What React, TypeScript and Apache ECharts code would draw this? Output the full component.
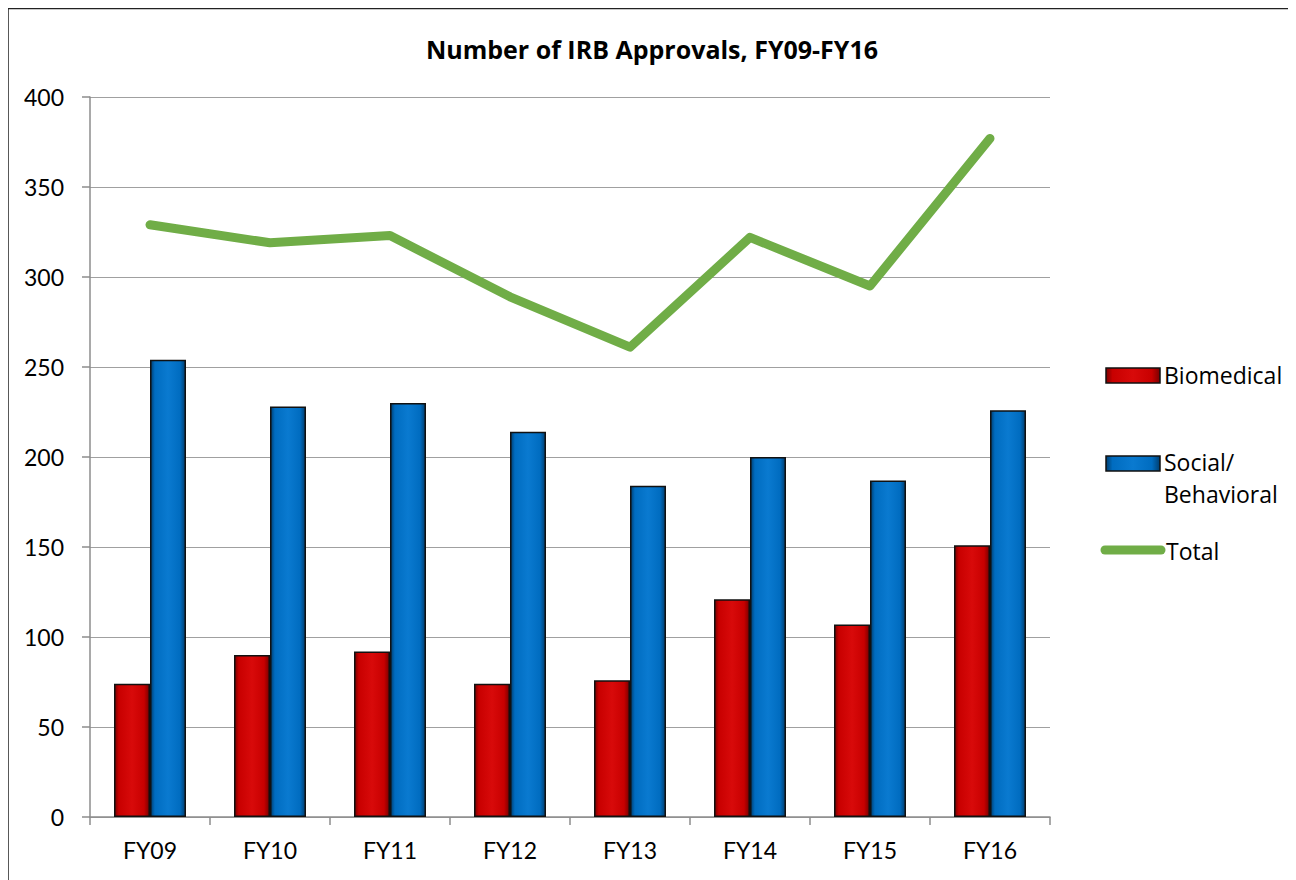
import React, { useEffect, useRef } from "react";
import * as echarts from "echarts";

const categories = ["FY09", "FY10", "FY11", "FY12", "FY13", "FY14", "FY15", "FY16"];
const biomedical = [74, 90, 92, 74, 76, 121, 107, 151];
const socialBehavioral = [254, 228, 230, 214, 184, 200, 187, 226];
const total = [329, 319, 323, 289, 261, 322, 295, 377];
const seriesNames = ["Biomedical", "Social/\nBehavioral", "Total"];
const titleText = "Number of IRB Approvals, FY09-FY16";

const FONT = "Lato, 'Open Sans', sans-serif";
const LFONT = "'Open Sans', Lato, sans-serif";

function barGradient(dark: string, main: string, light: string) {
  return new echarts.graphic.LinearGradient(0, 0, 1, 0, [
    { offset: 0, color: dark },
    { offset: 0.12, color: main },
    { offset: 0.5, color: light },
    { offset: 0.85, color: main },
    { offset: 1, color: dark },
  ]);
}

export default function App() {
  const ref = useRef<HTMLDivElement>(null);
  useEffect(() => {
    if (!ref.current) return;
    const chart = echarts.init(ref.current, undefined, { renderer: "svg" });
    const red = barGradient("#7a0000", "#c80000", "#d80a0a");
    const blue = barGradient("#003e70", "#006cc0", "#0a7ad0");
    const lx = 1098;
    chart.setOption({
      animation: false,
      backgroundColor: "#ffffff",
      textStyle: { fontFamily: FONT },
      title: {
        text: titleText,
        left: "center",
        top: 23,
        textStyle: { fontFamily: LFONT, fontWeight: "bold", fontSize: 25, color: "#000" },
      },
      grid: { left: 82, right: 246, top: 89, bottom: 63, containLabel: false },
      xAxis: {
        type: "category",
        data: categories,
        axisLine: { lineStyle: { color: "#8c8c8c", width: 1.5 } },
        axisTick: { show: true, length: 8, inside: false, lineStyle: { color: "#8c8c8c", width: 1.5 } },
        axisLabel: { fontFamily: FONT, fontSize: 23, color: "#000", margin: 21 },
      },
      yAxis: {
        type: "value",
        min: 0,
        max: 400,
        interval: 50,
        axisLine: { show: true, lineStyle: { color: "#8c8c8c", width: 1.5 } },
        axisTick: { show: true, length: 8, lineStyle: { color: "#8c8c8c", width: 1.5 } },
        splitLine: { lineStyle: { color: "#a0a0a0", width: 1 } },
        axisLabel: { fontFamily: FONT, fontSize: 23, color: "#000", margin: 26 },
      },
      series: [
        {
          name: seriesNames[0],
          type: "bar",
          data: biomedical,
          barGap: "0%",
          barCategoryGap: "40%",
          itemStyle: { color: red, borderColor: "#111", borderWidth: 1.5 },
        },
        {
          name: seriesNames[1],
          type: "bar",
          data: socialBehavioral,
          barGap: "0%",
          barCategoryGap: "40%",
          itemStyle: { color: blue, borderColor: "#111", borderWidth: 1.5 },
        },
        {
          name: seriesNames[2],
          type: "line",
          data: total,
          showSymbol: false,
          symbol: "none",
          lineStyle: { color: "#70ad47", width: 9, cap: "round", join: "round" },
          itemStyle: { color: "#70ad47" },
          z: 5,
        },
      ],
      graphic: [
        {
          type: "rect",
          shape: { x: 0, y: 0.5, width: 1285.5, height: 900 },
          style: { fill: "none", stroke: "#222", lineWidth: 1.5 },
          silent: true,
        },
        {
          type: "rect",
          shape: { x: lx, y: 360, width: 54, height: 15 },
          style: { fill: red, stroke: "#111", lineWidth: 1.5 },
        },
        {
          type: "text",
          x: lx + 58,
          y: 367,
          style: { text: seriesNames[0], font: `23px ${LFONT}`, fill: "#000", verticalAlign: "middle" },
        },
        {
          type: "rect",
          shape: { x: lx, y: 448, width: 54, height: 15 },
          style: { fill: blue, stroke: "#111", lineWidth: 1.5 },
        },
        {
          type: "text",
          x: lx + 58,
          y: 454,
          style: { text: "Social/", font: `23px ${LFONT}`, fill: "#000", verticalAlign: "middle" },
        },
        {
          type: "text",
          x: lx + 58,
          y: 486,
          style: { text: "Behavioral", font: `23px ${LFONT}`, fill: "#000", verticalAlign: "middle" },
        },
        {
          type: "line",
          shape: { x1: lx - 1, y1: 542, x2: lx + 55, y2: 542 },
          style: { stroke: "#70ad47", lineWidth: 9, lineCap: "round" },
        },
        {
          type: "text",
          x: lx + 60,
          y: 543,
          style: { text: seriesNames[2], font: `23px ${LFONT}`, fill: "#000", verticalAlign: "middle" },
        },
      ],
    });
    return () => chart.dispose();
  }, []);
  return <div ref={ref} style={{ width: 1288, height: 872 }} />;
}
